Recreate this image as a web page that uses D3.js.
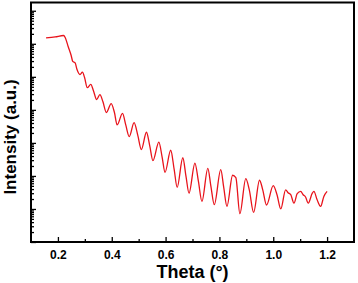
<!DOCTYPE html>
<html>
<head>
<meta charset="utf-8">
<script src="https://cdn.jsdelivr.net/npm/d3@7"></script>
<style>
	body { margin: 0; background: #fff; }
	svg text { font-family: "Liberation Sans", Arial, sans-serif; font-weight: bold; }
</style>
</head>
<body>
<svg id="chart"></svg>
<script>
// reflectivity curve
const theta = [0.156, 0.190, 0.221, 0.227, 0.238, 0.249, 0.255, 0.264, 0.271, 0.282,
	0.291, 0.299, 0.309, 0.322, 0.332, 0.344, 0.356, 0.367, 0.380, 0.398,
	0.410, 0.420, 0.440, 0.452, 0.465, 0.483, 0.497, 0.510, 0.529, 0.541,
	0.553, 0.575, 0.587, 0.598, 0.619, 0.632, 0.643, 0.664, 0.676, 0.687,
	0.709, 0.722, 0.735, 0.757, 0.768, 0.781, 0.805, 0.816, 0.828, 0.849,
	0.861, 0.876, 0.898, 0.911, 0.927, 0.949, 0.961, 0.975, 1.000, 1.014,
	1.028, 1.046, 1.055, 1.065, 1.077, 1.089, 1.102, 1.111, 1.120, 1.130,
	1.145, 1.151, 1.163, 1.176, 1.188, 1.200];
const intensity = [1.51e6, 1.62e6, 1.78e6, 1.55e6, 8.3e5, 4.5e5, 2.95e5, 2.63e5, 1.66e5, 1.17e5,
	1.38e5, 9.5e4, 4.7e4, 5.9e4, 3.8e4, 2.04e4, 2.9e4, 1.78e4, 8.3e3, 1.55e4,
	8.3e3, 3.5e3, 7.8e3, 3.5e3, 1.55e3, 4.1e3, 1.66e3, 630, 2.1e3, 830,
	290, 1050, 380, 129, 600, 155, 45, 355, 95, 30,
	245, 68, 17, 170, 51, 13.5, 155, 45, 12, 105,
	89, 7.2, 83, 38, 7.9, 74, 38, 13.2, 51, 27,
	10, 38, 31, 27, 15, 29, 34, 27, 23, 15,
	30, 34, 19, 12, 24, 34];

const xMajorTicks = [0.2, 0.4, 0.6, 0.8, 1.0, 1.2];
const xMinorTicks = [0.3, 0.5, 0.7, 0.9, 1.1];
const yMajorTicks = [1, 10, 100, 1e3, 1e4, 1e5, 1e6, 1e7];

const width = 358, height = 283;
const plot = { left: 31, right: 354, top: 2.5, bottom: 242 };

const svg = d3.select("#chart")
	.attr("width", width)
	.attr("height", height);

const x = d3.scaleLinear().domain([0.1, 1.3]).range([plot.left, plot.right]);
const y = d3.scaleLog().domain([1, Math.pow(10, 7.25)]).range([plot.bottom, plot.top]);

// minor log ticks 2..9 in each decade
const yMinorTicks = [];
yMajorTicks.forEach(m => {
	for (let k = 2; k <= 9; k++) {
		const v = m * k;
		if (v < y.domain()[1]) yMinorTicks.push(v);
	}
});

// x axis, ticks pointing in
svg.append("g")
	.attr("transform", `translate(0,${plot.bottom})`)
	.call(d3.axisBottom(x).tickValues(xMinorTicks).tickSize(-3).tickFormat(""))
	.call(g => g.select(".domain").remove());

svg.append("g")
	.attr("class", "x-axis")
	.attr("transform", `translate(0,${plot.bottom})`)
	.call(d3.axisBottom(x).tickValues(xMajorTicks).tickSizeInner(-5).tickSizeOuter(0)
		.tickPadding(8).tickFormat(d3.format(".1f")))
	.call(g => g.select(".domain").remove())
	.selectAll("text")
	.style("font-size", "12px")
	.attr("fill", "#000");

// y axis, no labels
svg.append("g")
	.attr("transform", `translate(${plot.left},0)`)
	.call(d3.axisRight(y).tickValues(yMinorTicks).tickSize(3).tickFormat(""))
	.call(g => g.select(".domain").remove());

svg.append("g")
	.attr("transform", `translate(${plot.left},0)`)
	.call(d3.axisRight(y).tickValues(yMajorTicks).tickSize(5).tickFormat(""))
	.call(g => g.select(".domain").remove());

svg.selectAll(".tick line").attr("stroke", "#000").attr("stroke-width", 1.3);

// frame
svg.append("rect")
	.attr("x", plot.left)
	.attr("y", plot.top)
	.attr("width", plot.right - plot.left)
	.attr("height", plot.bottom - plot.top)
	.attr("fill", "none")
	.attr("stroke", "#000")
	.attr("stroke-width", 2);

const data = theta.map((t, i) => ({ t, v: intensity[i] }));

const line = d3.line()
	.x(d => x(d.t))
	.y(d => y(d.v))
	.curve(d3.curveMonotoneX);

svg.append("path")
	.datum(data)
	.attr("fill", "none")
	.attr("stroke", "#e8131b")
	.attr("stroke-width", 1.3)
	.attr("d", line);

// axis titles
svg.append("text")
	.attr("x", (plot.left + plot.right) / 2)
	.attr("y", 278)
	.attr("text-anchor", "middle")
	.style("font-size", "18px")
	.text("Theta (°)");

svg.append("text")
	.attr("transform", "translate(15.5,137) rotate(-90)")
	.attr("text-anchor", "middle")
	.style("font-size", "17px")
	.text("Intensity (a.u.)");
</script>
</body>
</html>
